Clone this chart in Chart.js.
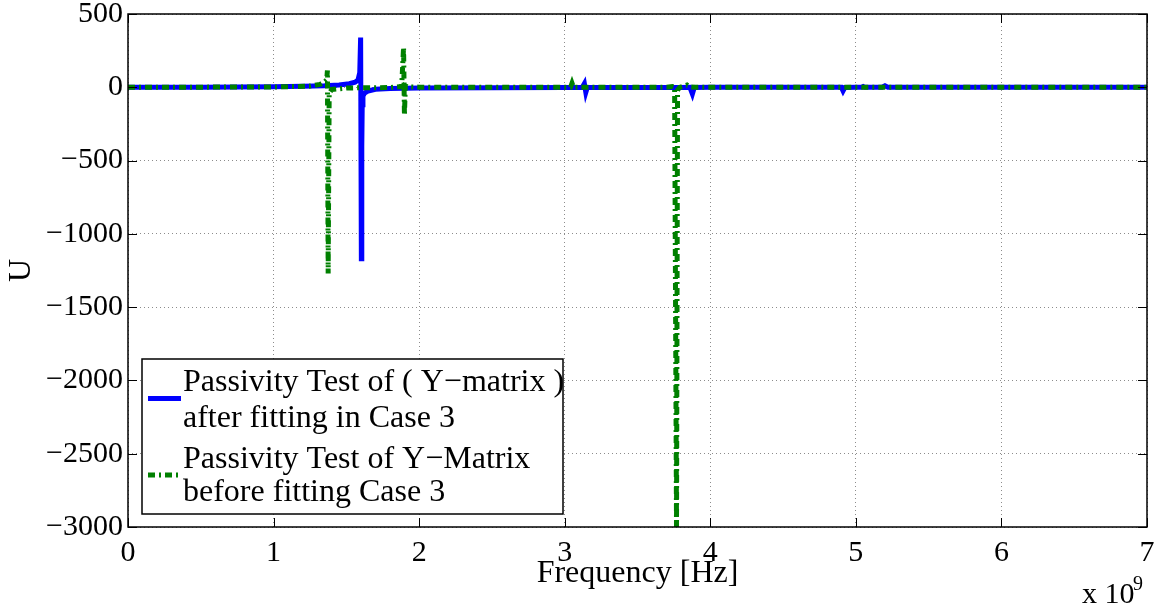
<!DOCTYPE html>
<html><head><meta charset="utf-8">
<script src="https://cdn.jsdelivr.net/npm/chart.js@4"></script>
<style>html,body{margin:0;padding:0;background:#fff}#wrap{width:1166px;height:611px}</style>
</head><body><div id="wrap"><canvas id="c" width="1166" height="611"></canvas></div>
<script>
// Frequency in units of 1e9 Hz
const blueFreq = [0, 0.5, 1.0, 1.2, 1.35, 1.45, 1.52, 1.56, 1.58, 1.592, 1.598, 1.603, 1.606, 1.609, 1.614, 1.625, 1.65, 1.7, 1.8, 2.0, 2.5, 3.0, 3.12, 3.135, 3.145, 3.155, 3.2, 3.8, 3.86, 3.877, 3.89, 4.0, 4.85, 4.9, 4.912, 4.925, 5.0, 5.04, 5.05, 5.06, 5.18, 5.2, 5.22, 6.0, 7.0];
const blueU    = [0, 1, 4, 7, 11, 16, 24, 35, 50, 100, 340, -1170, -400, -120, -60, -40, -25, -14, -8, -5, -3, -2, -1, 25, -35, -2, -1, -1, 0, -45, -1, 0, 0, 0, -25, -1, 0, 0, 5, 0, 0, 10, 0, 0, 0];
const greenFreq = [0, 1.0, 1.25, 1.32, 1.35, 1.365, 1.37, 1.375, 1.382, 1.4, 1.5, 1.6, 1.8, 1.88, 1.893, 1.899, 1.905, 1.92, 2.0, 3.0, 3.04, 3.05, 3.06, 3.5, 3.7, 3.74, 3.755, 3.768, 3.775, 3.79, 3.84, 3.86, 3.9, 4.0, 7.0];
const greenU    = [0, 2, 8, 20, 36, 50, 115, -1270, -40, -15, -5, -3, -2, 5, 272, -190, 10, 3, 1, 0, 0, 28, 0, 0, 0, 5, 0, -3000, -20, 0, 15, 2, 0, 0, 0];
const xTicks = [0, 1, 2, 3, 4, 5, 6, 7];
const yTicks = [500, 0, -500, -1000, -1500, -2000, -2500, -3000];
const legendLines = [
  ["Passivity Test of ( Y\u2212matrix )", "after fitting in Case 3"],
  ["Passivity Test of Y\u2212Matrix", "before fitting Case 3"]
];
const seriesLabels = ["Passivity Test of ( Y\u2212matrix ) after fitting in Case 3", "Passivity Test of Y\u2212Matrix before fitting Case 3"];

const FONT = "'Liberation Serif', 'Times New Roman', serif";
const pts = (xs, ys) => xs.map((x, i) => ({x: x, y: ys[i]}));

const framePlugin = {
  id: 'frame',
  afterDatasetsDraw(chart) {
    const {ctx, chartArea: a, scales} = chart;
    ctx.save();
    ctx.strokeStyle = '#000'; ctx.lineWidth = 1;
    ctx.beginPath();
    xTicks.forEach(v => {
      const px = Math.round(scales.x.getPixelForValue(v)) + 0.5;
      ctx.moveTo(px, a.bottom); ctx.lineTo(px, a.bottom - 9);
      ctx.moveTo(px, a.top); ctx.lineTo(px, a.top + 9);
    });
    yTicks.forEach(v => {
      const py = Math.round(scales.y.getPixelForValue(v)) + 0.5;
      ctx.moveTo(a.left, py); ctx.lineTo(a.left + 9, py);
      ctx.moveTo(a.right, py); ctx.lineTo(a.right - 9, py);
    });
    ctx.stroke();
    ctx.lineWidth = 1.5;
    ctx.strokeRect(a.left, a.top, a.right - a.left, a.bottom - a.top);
    // legend
    const lx = 142, ly = 359, lw = 421, lh = 155;
    ctx.fillStyle = '#fff';
    ctx.fillRect(lx, ly, lw, lh);
    ctx.lineWidth = 1.5; ctx.strokeStyle = '#000';
    ctx.strokeRect(lx, ly, lw, lh);
    ctx.font = "32px " + FONT;
    ctx.fillStyle = '#000';
    ctx.textBaseline = 'alphabetic';
    ctx.textAlign = 'left';
    const ds = chart.data.datasets;
    const base = [[391, 427], [468, 501]];
    const sampleY = [398.5, 475];
    legendLines.forEach((lines, i) => {
      const d = ds[i];
      ctx.save();
      ctx.strokeStyle = d.borderColor; ctx.lineWidth = d.borderWidth;
      ctx.setLineDash(d.borderDash || []);
      ctx.beginPath(); ctx.moveTo(148, sampleY[i]); ctx.lineTo(181, sampleY[i]); ctx.stroke();
      ctx.restore();
      lines.forEach((t, j) => ctx.fillText(t, 183, base[i][j]));
    });
    ctx.font = "30px " + FONT;
    ctx.fillText("x 10", 1082, 603);
    ctx.font = "20px " + FONT;
    ctx.fillText("9", 1133, 590);
    ctx.restore();
  }
};

new Chart(document.getElementById('c'), {
  type: 'line',
  data: {
    datasets: [
      {label: seriesLabels[0], data: pts(blueFreq, blueU), borderColor: '#0000ff', borderWidth: 5, pointRadius: 0, tension: 0, order: 2, fill: false},
      {label: seriesLabels[1], data: pts(greenFreq, greenU), borderColor: '#008000', borderWidth: 5, borderDash: [7, 4, 2, 4], pointRadius: 0, tension: 0, order: 1, fill: false}
    ]
  },
  options: {
    responsive: false,
    animation: false,
    layout: {padding: {top: 0, right: 19, left: 0, bottom: 0}},
    plugins: {legend: {display: false}, tooltip: {enabled: false}},
    scales: {
      x: {
        type: 'linear', min: 0, max: 7,
        afterFit(s) { s.height = 84; },
        afterBuildTicks(s) { s.ticks = xTicks.map(v => ({value: v})); },
        ticks: {color: '#000', font: {family: FONT, size: 30}, padding: 8, maxRotation: 0, callback: v => String(v)},
        grid: {color: '#8c8c8c', drawTicks: false, lineWidth: 1},
        border: {display: false, dash: [1, 3]},
        title: {display: true, text: 'Frequency [Hz]', color: '#000', font: {family: FONT, size: 32}, padding: {top: 0, bottom: 18}}
      },
      y: {
        type: 'linear', min: -3000, max: 500,
        afterFit(s) { s.width = 128; },
        afterBuildTicks(s) { s.ticks = yTicks.map(v => ({value: v})); },
        ticks: {color: '#000', font: {family: FONT, size: 30, lineHeight: 0.6}, padding: 5, callback: v => (v < 0 ? '\u2212' + Math.abs(v) : String(v))},
        grid: {color: '#8c8c8c', drawTicks: false, lineWidth: 1},
        border: {display: false, dash: [1, 3]},
        title: {display: true, text: 'U', color: '#000', font: {family: FONT, size: 32}, padding: {top: 2, bottom: 0}}
      }
    }
  },
  plugins: [framePlugin]
});
</script></body></html>
